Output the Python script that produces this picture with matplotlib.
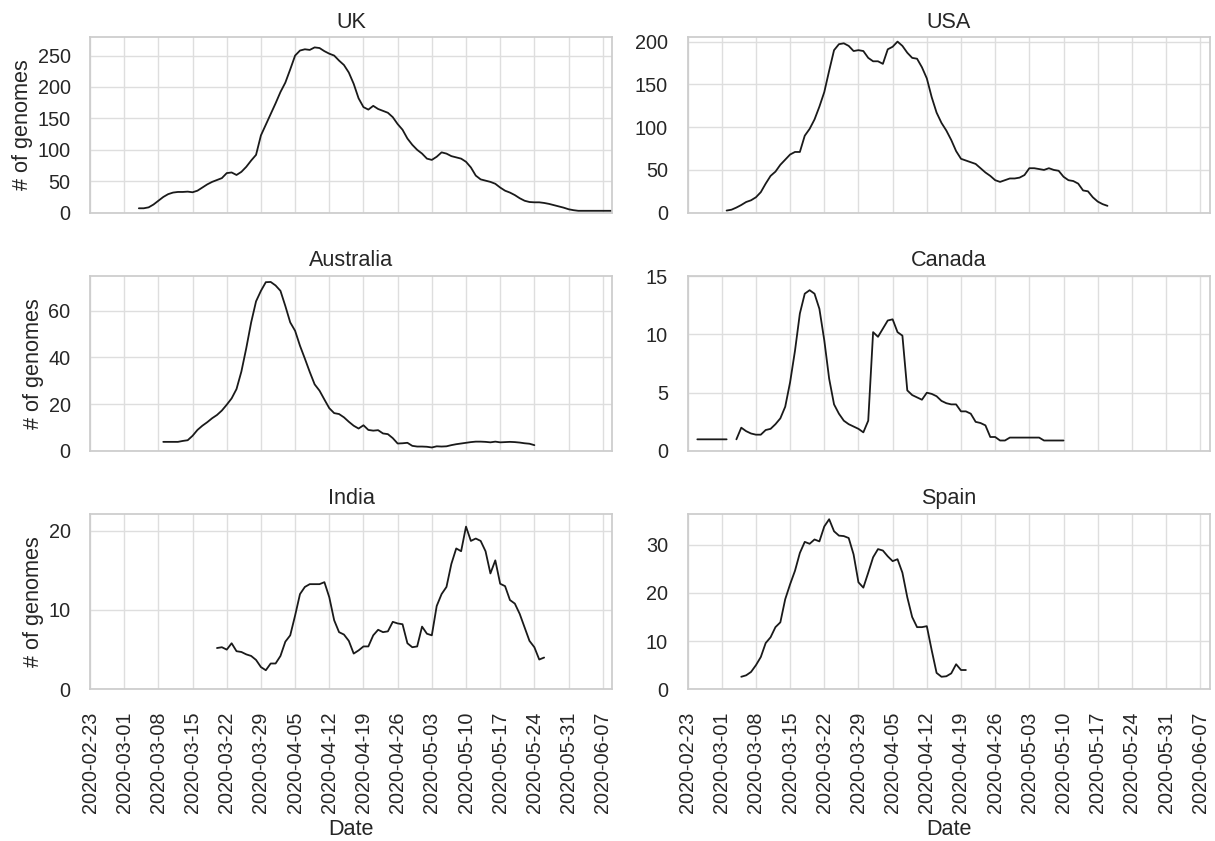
from matplotlib import pyplot as plt
import matplotlib.dates as mdates
from matplotlib.ticker import MultipleLocator
import seaborn as sns
import pandas as pd
import numpy as np

#daily rolling counts, one list per country
uk_start = '2020-03-04'
uk = [7, 7, 8.5, 13, 19, 25, 29.5, 32, 33, 33, 33.5, 32.5, 35, 40, 45, 49, 52, 55, 63, 64,
      60, 65, 73, 83, 92, 123, 140, 157, 174, 192, 207, 228, 250, 258, 260, 259, 263, 262,
      257, 253, 250, 242, 235, 223, 205, 182, 168, 164, 170, 165, 162, 159, 152, 141, 132,
      118, 108, 100, 94, 86, 84, 89, 96, 94, 90, 88, 86, 81, 72, 59, 53, 51, 49, 46, 40, 35,
      32, 28, 23, 19, 17, 16.5, 16.5, 15.5, 14, 12, 10, 8, 5.5, 4, 3, 3, 3, 3, 3, 3, 3, 3]

usa_start = '2020-03-02'
usa = [2.5, 3.5, 6, 9, 12.5, 14.5, 18, 24, 34, 43, 48, 56, 62, 68, 71, 71, 90, 98, 109, 124,
       141, 166, 190, 197, 198, 195, 189, 190, 189, 181, 177, 177, 174, 191, 194, 200, 195,
       187, 181, 180, 170, 157, 135, 117, 105, 96, 85, 72, 63, 61, 59, 57, 52, 47, 43, 38, 36,
       38, 40, 40, 41, 44, 52, 52, 51, 50, 52, 50, 49, 42, 38, 37, 34, 26, 25, 18, 13, 10, 8]

aus_start = '2020-03-09'
aus = [3.9, 3.9, 3.9, 3.9, 4.3, 4.6, 6.5, 9, 10.8, 12.3, 14, 15.4, 17.3, 19.8, 22.5, 26.5, 34,
       44, 55, 64, 68.5, 72.2, 72.3, 70.8, 68.5, 62, 55, 51.4, 45, 39.5, 33.8, 28.5, 25.8, 22,
       18.3, 16.2, 15.8, 14.4, 12.5, 10.8, 9.6, 11, 9, 8.7, 8.9, 7.5, 7.2, 5.5, 3.2, 3.3, 3.5,
       2.2, 1.9, 1.9, 1.8, 1.5, 2, 1.9, 2, 2.5, 2.9, 3.2, 3.5, 3.8, 4, 4, 3.9, 3.7, 4, 3.7,
       3.8, 3.9, 3.8, 3.6, 3.3, 3.1, 2.5]

can_start = '2020-02-25'
can = [1, 1, 1, 1, 1, 1, 1, np.nan, 1.0, 2.0, 1.7, 1.5, 1.4, 1.4, 1.8, 1.9, 2.3, 2.8, 3.8,
       5.9, 8.6, 11.8, 13.5, 13.8, 13.5, 12.2, 9.5, 6.2, 4.0, 3.2, 2.6, 2.3, 2.1, 1.9, 1.6,
       2.6, 10.2, 9.8, 10.5, 11.2, 11.3, 10.2, 9.9, 5.2, 4.8, 4.6, 4.4, 5.0, 4.9, 4.7, 4.3,
       4.1, 4.0, 4.0, 3.4, 3.4, 3.2, 2.5, 2.4, 2.2, 1.2, 1.2, 0.9, 0.9, 1.15, 1.15, 1.15,
       1.15, 1.15, 1.15, 1.15, 0.9, 0.9, 0.9, 0.9, 0.9]

ind_start = '2020-03-20'
ind = [5.2, 5.3, 5.0, 5.8, 4.8, 4.7, 4.4, 4.2, 3.7, 2.8, 2.4, 3.25, 3.25, 4.2, 6, 6.8, 9.3,
       12, 12.9, 13.25, 13.25, 13.25, 13.5, 11.6, 8.7, 7.2, 6.9, 6.1, 4.5, 4.9, 5.4, 5.4,
       6.8, 7.5, 7.2, 7.3, 8.5, 8.3, 8.2, 5.8, 5.3, 5.4, 7.9, 7, 6.8, 10.5, 12, 12.9, 15.8,
       17.75, 17.4, 20.5, 18.7, 19, 18.7, 17.4, 14.6, 16.25, 13.3, 13, 11.25, 10.8, 9.5, 7.8,
       6.1, 5.3, 3.75, 4.0]

esp_start = '2020-03-05'
esp = [2.6, 2.9, 3.6, 5, 6.7, 9.6, 10.8, 12.9, 13.9, 18.7, 21.8, 24.6, 28.3, 30.6, 30.2,
       31.1, 30.7, 33.8, 35.3, 32.8, 31.9, 31.8, 31.4, 28, 22.2, 21.1, 24.2, 27.4, 29.1, 28.8,
       27.6, 26.6, 27, 24.2, 19.1, 15, 12.9, 12.9, 13.1, 8.1, 3.4, 2.6, 2.7, 3.3, 5.2, 4, 4.0]

countries = ['UK', 'USA', 'Australia', 'Canada', 'India', 'Spain']
starts = [uk_start, usa_start, aus_start, can_start, ind_start, esp_start]
series = [uk, usa, aus, can, ind, esp]
ytops = [279, 205, 75, 15.05, 22.1, 36.4]
ysteps = [50, 50, 20, 5, 10, 10]

sns.set_theme(style='whitegrid', font_scale=1.3,
              rc={'grid.color': '#dedede', 'xtick.major.pad': 10, 'ytick.major.pad': 8})
plt.rcParams['font.family'] = ['Liberation Sans', 'DejaVu Sans']

fig, axes = plt.subplots(3, 2, sharex=True, figsize=(12.15, 8.41), dpi=100)
fig.subplots_adjust(left=0.0741, right=0.9959, top=0.9556, bottom=0.1804,
                    wspace=0.1437, hspace=0.359)

for ax, name, start, vals, top, step in zip(axes.flat, countries, starts, series, ytops, ysteps):
    s = pd.Series(vals, index=pd.date_range(start, periods=len(vals), freq='D'))
    ax.plot(s.index, s.values, color='#1a1a1a', linewidth=1.3)
    ax.set_title(name, pad=7)
    ax.set_ylim(0, top)
    ax.yaxis.set_major_locator(MultipleLocator(step))

#weekly ticks on sundays like the original
axes[0, 0].xaxis.set_major_locator(mdates.WeekdayLocator(byweekday=mdates.SU))
axes[0, 0].xaxis.set_major_formatter(mdates.DateFormatter('%Y-%m-%d'))
axes[0, 0].set_xlim(pd.Timestamp('2020-02-23'), pd.Timestamp('2020-06-09'))

for ax in axes[:, 0]:
    ax.set_ylabel('# of genomes', labelpad=3)
for ax in axes[2, :]:
    ax.set_xlabel('Date', labelpad=4)
    plt.setp(ax.get_xticklabels(), rotation=90)

plt.savefig('out.png')
